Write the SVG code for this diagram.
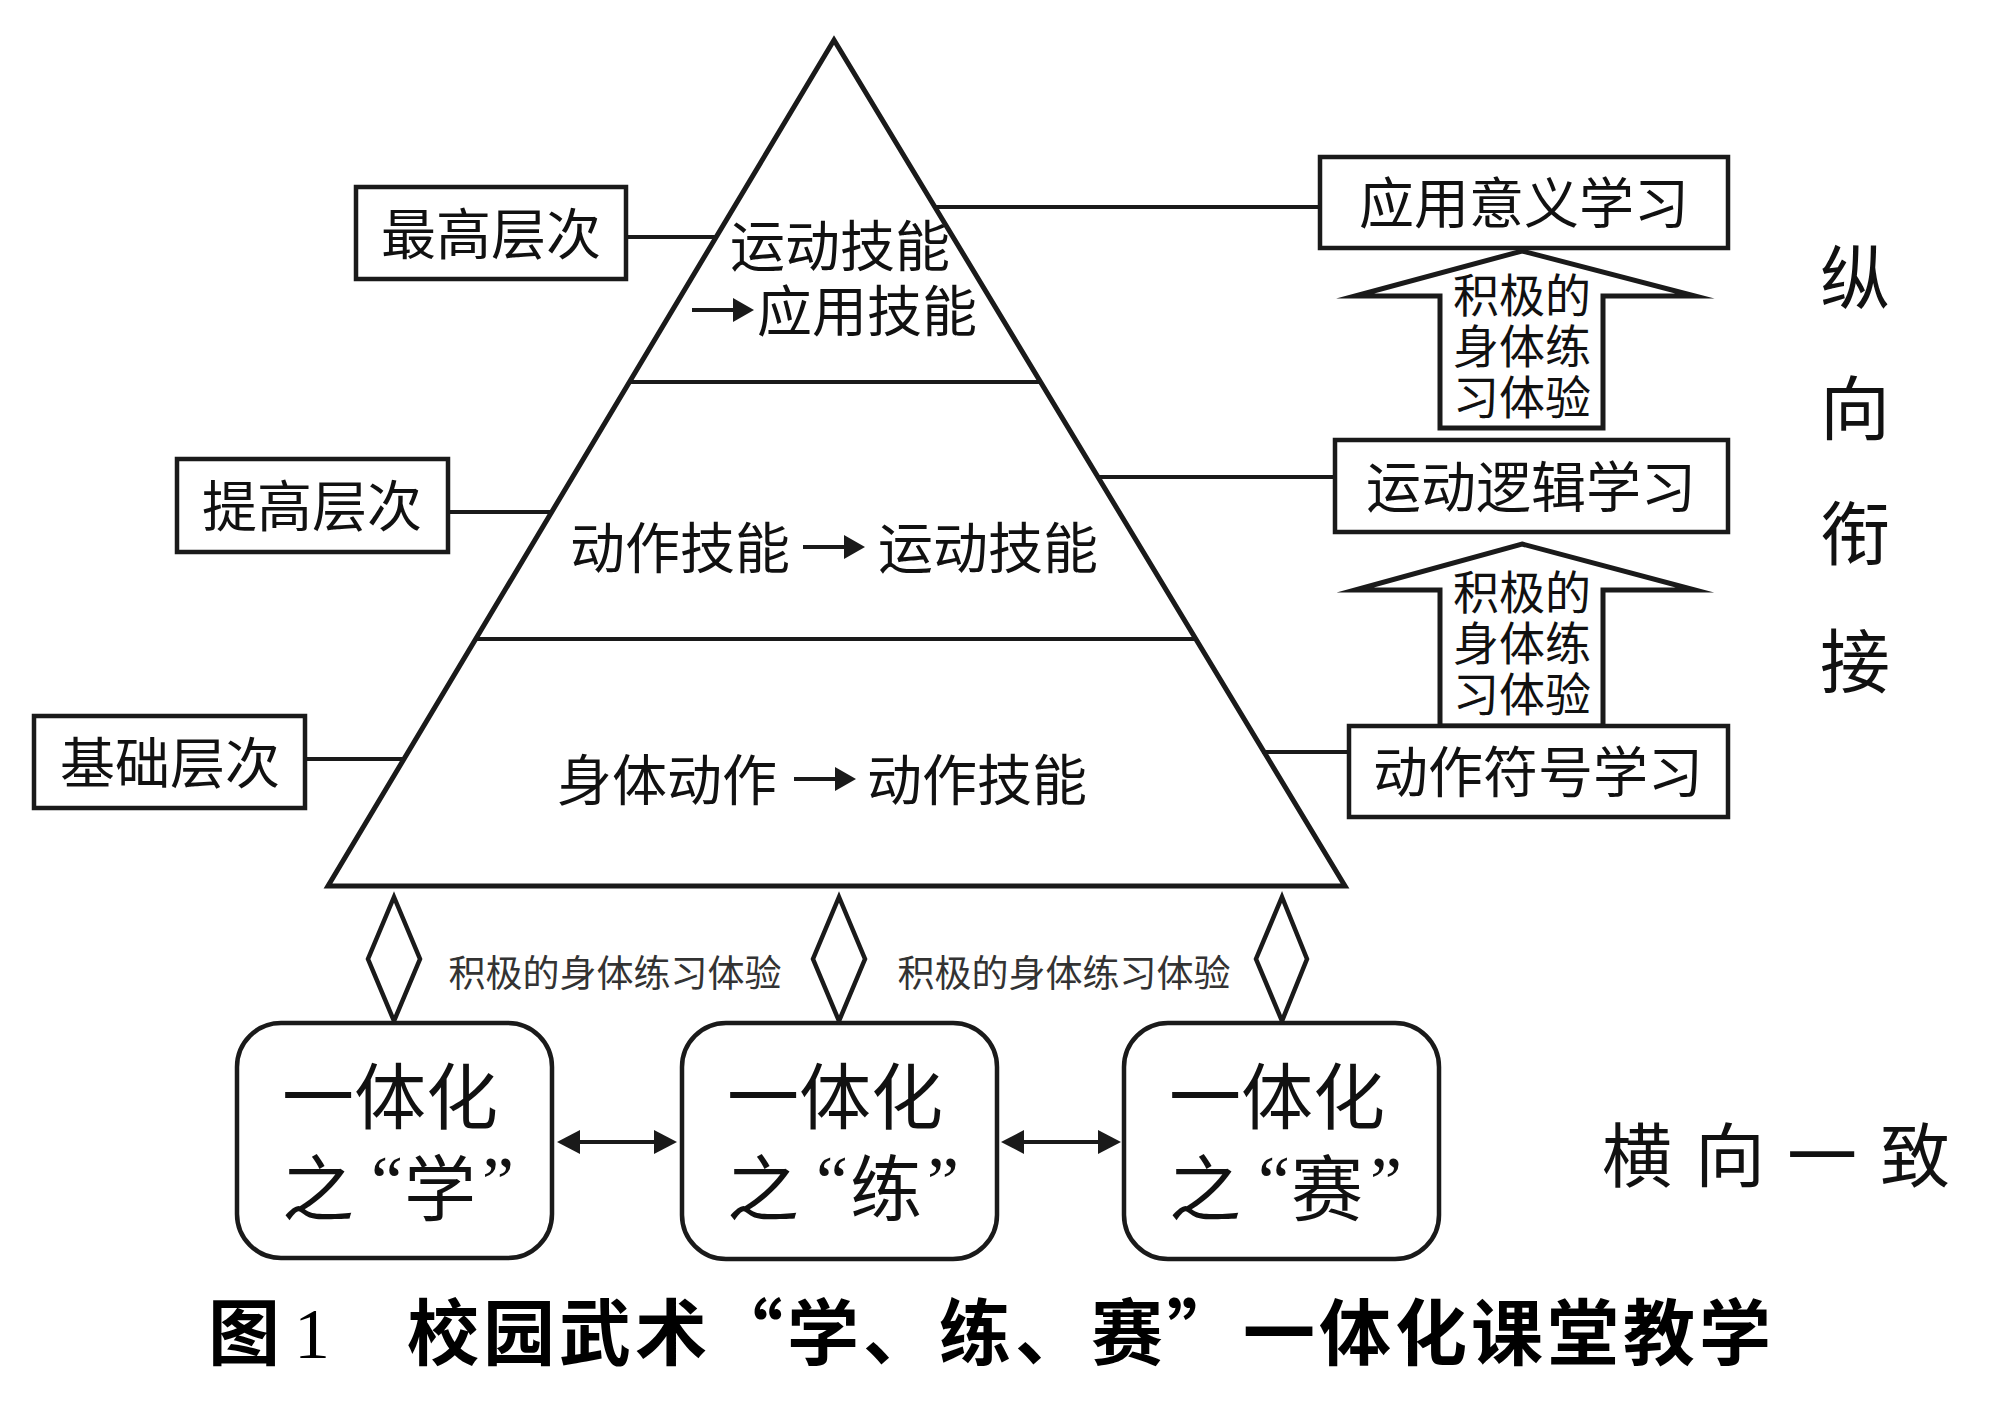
<svg xmlns="http://www.w3.org/2000/svg" width="1989" height="1407" viewBox="0 0 1989 1407">
<style>
  .t { font-family: "Noto Sans CJK SC", "Noto Sans", sans-serif; fill: #111; }
  .box { fill: #fff; stroke: #1a1a1a; stroke-width: 4.5; }
  .rbox { fill: #fff; stroke: #1a1a1a; stroke-width: 4.5; }
  .ln { stroke: #1a1a1a; stroke-width: 4; fill: none; }
  .tri { fill: #fff; stroke: #1a1a1a; stroke-width: 5; stroke-linejoin: miter; }
  .blk { fill: #fff; stroke: #1a1a1a; stroke-width: 5; stroke-linejoin: miter; stroke-miterlimit: 20; }
  .dia { fill: #fff; stroke: #1a1a1a; stroke-width: 4.5; stroke-miterlimit: 20; }
  .head { fill: #1a1a1a; }
  .q { font-family: "Liberation Serif", serif; fill: #111; }
  .cap { font-family: "Noto Sans CJK SC", "Noto Sans", sans-serif; font-weight: 700; fill: #000; }
</style>
<rect width="1989" height="1407" fill="#fff"/>

<g id="pyramid">
  <polygon class="tri" points="834,40 1345,886 328,886"/>
  <line class="ln" x1="630" y1="382" x2="1040" y2="382"/>
  <line class="ln" x1="476" y1="639" x2="1194" y2="639"/>
</g>

<g id="level-top-content">
  <text class="t" x="840" y="266" font-size="55" text-anchor="middle">运动技能</text>
  <line class="ln" x1="692" y1="310" x2="736" y2="310" stroke-width="5"/>
  <polygon class="head" points="754,310 733,298 733,322"/>
  <text class="t" x="867" y="331" font-size="55" text-anchor="middle">应用技能</text>
</g>

<g id="level-mid-content">
  <text class="t" x="680" y="568" font-size="55" text-anchor="middle">动作技能</text>
  <line class="ln" x1="803" y1="547" x2="847" y2="547" stroke-width="5"/>
  <polygon class="head" points="865,547 844,535 844,559"/>
  <text class="t" x="988" y="568" font-size="55" text-anchor="middle">运动技能</text>
</g>

<g id="level-base-content">
  <text class="t" x="667" y="800" font-size="55" text-anchor="middle">身体动作</text>
  <line class="ln" x1="794" y1="779" x2="838" y2="779" stroke-width="5"/>
  <polygon class="head" points="856,779 835,767 835,791"/>
  <text class="t" x="977" y="800" font-size="55" text-anchor="middle">动作技能</text>
</g>

<g id="connectors">
  <line class="ln" x1="626" y1="237" x2="716" y2="237"/>
  <line class="ln" x1="448" y1="512" x2="552" y2="512"/>
  <line class="ln" x1="305" y1="759" x2="404" y2="759"/>
  <line class="ln" x1="934" y1="207" x2="1320" y2="207"/>
  <line class="ln" x1="1097" y1="477" x2="1335" y2="477"/>
  <line class="ln" x1="1262" y1="752" x2="1349" y2="752"/>
  <polygon class="dia" points="394,897 420,959 394,1021 368,959"/>
  <polygon class="dia" points="839,897 865,959 839,1021 813,959"/>
  <polygon class="dia" points="1282,897 1307,959 1282,1021 1256,959"/>
  <line class="ln" x1="575" y1="1142" x2="660" y2="1142"/>
  <polygon class="head" points="557,1142 580,1130 580,1154"/>
  <polygon class="head" points="677,1142 654,1130 654,1154"/>
  <line class="ln" x1="1019" y1="1142" x2="1104" y2="1142"/>
  <polygon class="head" points="1001,1142 1024,1130 1024,1154"/>
  <polygon class="head" points="1121,1142 1098,1130 1098,1154"/>
</g>

<g id="label-bottom-1">
  <text class="t" x="615" y="987" font-size="37" text-anchor="middle" fill="#333" style="fill:#333">积极的身体练习体验</text>
</g>
<g id="label-bottom-2">
  <text class="t" x="1064" y="987" font-size="37" text-anchor="middle" style="fill:#333">积极的身体练习体验</text>
</g>

<g id="arrow-up-1">
  <polygon class="blk" points="1522,251 1695,296 1603,296 1603,428 1440,428 1440,296 1355,296"/>
  <text class="t" x="1522" y="312" font-size="46" text-anchor="middle">积极的</text>
  <text class="t" x="1522" y="363" font-size="46" text-anchor="middle">身体练</text>
  <text class="t" x="1522" y="414" font-size="46" text-anchor="middle">习体验</text>
</g>
<g id="arrow-up-2">
  <polygon class="blk" points="1522,544 1695,590 1603,590 1603,726 1440,726 1440,590 1355,590"/>
  <text class="t" x="1522" y="609" font-size="46" text-anchor="middle">积极的</text>
  <text class="t" x="1522" y="660" font-size="46" text-anchor="middle">身体练</text>
  <text class="t" x="1522" y="711" font-size="46" text-anchor="middle">习体验</text>
</g>

<g id="node-zuigao">
  <rect class="box" x="356" y="187" width="270" height="92"/>
  <text class="t" x="491" y="254" font-size="55" text-anchor="middle">最高层次</text>
</g>
<g id="node-tigao">
  <rect class="box" x="177" y="459" width="271" height="93"/>
  <text class="t" x="312" y="526" font-size="55" text-anchor="middle">提高层次</text>
</g>
<g id="node-jichu">
  <rect class="box" x="34" y="716" width="271" height="92"/>
  <text class="t" x="170" y="783" font-size="55" text-anchor="middle">基础层次</text>
</g>

<g id="node-yingyong">
  <rect class="box" x="1320" y="157" width="408" height="91"/>
  <text class="t" x="1524" y="223" font-size="55" text-anchor="middle">应用意义学习</text>
</g>
<g id="node-yundong">
  <rect class="box" x="1335" y="440" width="393" height="92"/>
  <text class="t" x="1531" y="507" font-size="55" text-anchor="middle">运动逻辑学习</text>
</g>
<g id="node-dongzuo">
  <rect class="box" x="1349" y="726" width="379" height="91"/>
  <text class="t" x="1538" y="792" font-size="55" text-anchor="middle">动作符号学习</text>
</g>

<g id="node-xue">
  <rect class="rbox" x="237" y="1023" width="315" height="235" rx="44" ry="44"/>
  <text class="t" x="390" y="1123" font-size="72" text-anchor="middle">一体化</text>
  <text class="t" x="318" y="1215" font-size="72" text-anchor="middle">之</text>
  <text class="q" x="371" y="1206" font-size="72">“</text>
  <text class="t" x="440" y="1215" font-size="72" text-anchor="middle">学</text>
  <text class="q" x="482" y="1206" font-size="72">”</text>
</g>
<g id="node-lian">
  <rect class="rbox" x="682" y="1023" width="315" height="236" rx="44" ry="44"/>
  <text class="t" x="835" y="1123" font-size="72" text-anchor="middle">一体化</text>
  <text class="t" x="763" y="1215" font-size="72" text-anchor="middle">之</text>
  <text class="q" x="816" y="1206" font-size="72">“</text>
  <text class="t" x="886" y="1215" font-size="72" text-anchor="middle">练</text>
  <text class="q" x="927" y="1206" font-size="72">”</text>
</g>
<g id="node-sai">
  <rect class="rbox" x="1124" y="1023" width="315" height="236" rx="44" ry="44"/>
  <text class="t" x="1277" y="1123" font-size="72" text-anchor="middle">一体化</text>
  <text class="t" x="1205" y="1215" font-size="72" text-anchor="middle">之</text>
  <text class="q" x="1258" y="1206" font-size="72">“</text>
  <text class="t" x="1327" y="1215" font-size="72" text-anchor="middle">赛</text>
  <text class="q" x="1370" y="1206" font-size="72">”</text>
</g>

<g id="label-zongxiang">
  <text class="t" x="1855" y="304" font-size="70" text-anchor="middle">纵</text>
  <text class="t" x="1855" y="435" font-size="70" text-anchor="middle">向</text>
  <text class="t" x="1855" y="560" font-size="70" text-anchor="middle">衔</text>
  <text class="t" x="1855" y="688" font-size="70" text-anchor="middle">接</text>
</g>
<g id="label-hengxiang">
  <text class="t" x="1637" y="1182" font-size="70" text-anchor="middle">横</text>
  <text class="t" x="1730" y="1182" font-size="70" text-anchor="middle">向</text>
  <text class="t" x="1822" y="1182" font-size="70" text-anchor="middle">一</text>
  <text class="t" x="1915" y="1182" font-size="70" text-anchor="middle">致</text>
</g>

<g id="caption">
  <text class="cap" x="244" y="1359" font-size="72" text-anchor="middle">图</text>
  <text class="q" x="312" y="1358" font-size="72" text-anchor="middle" style="fill:#000">1</text>
  <text class="cap" x="407" y="1359" font-size="72" letter-spacing="4">校园武术“学、练、赛”一体化课堂教学</text>
</g>
</svg>
